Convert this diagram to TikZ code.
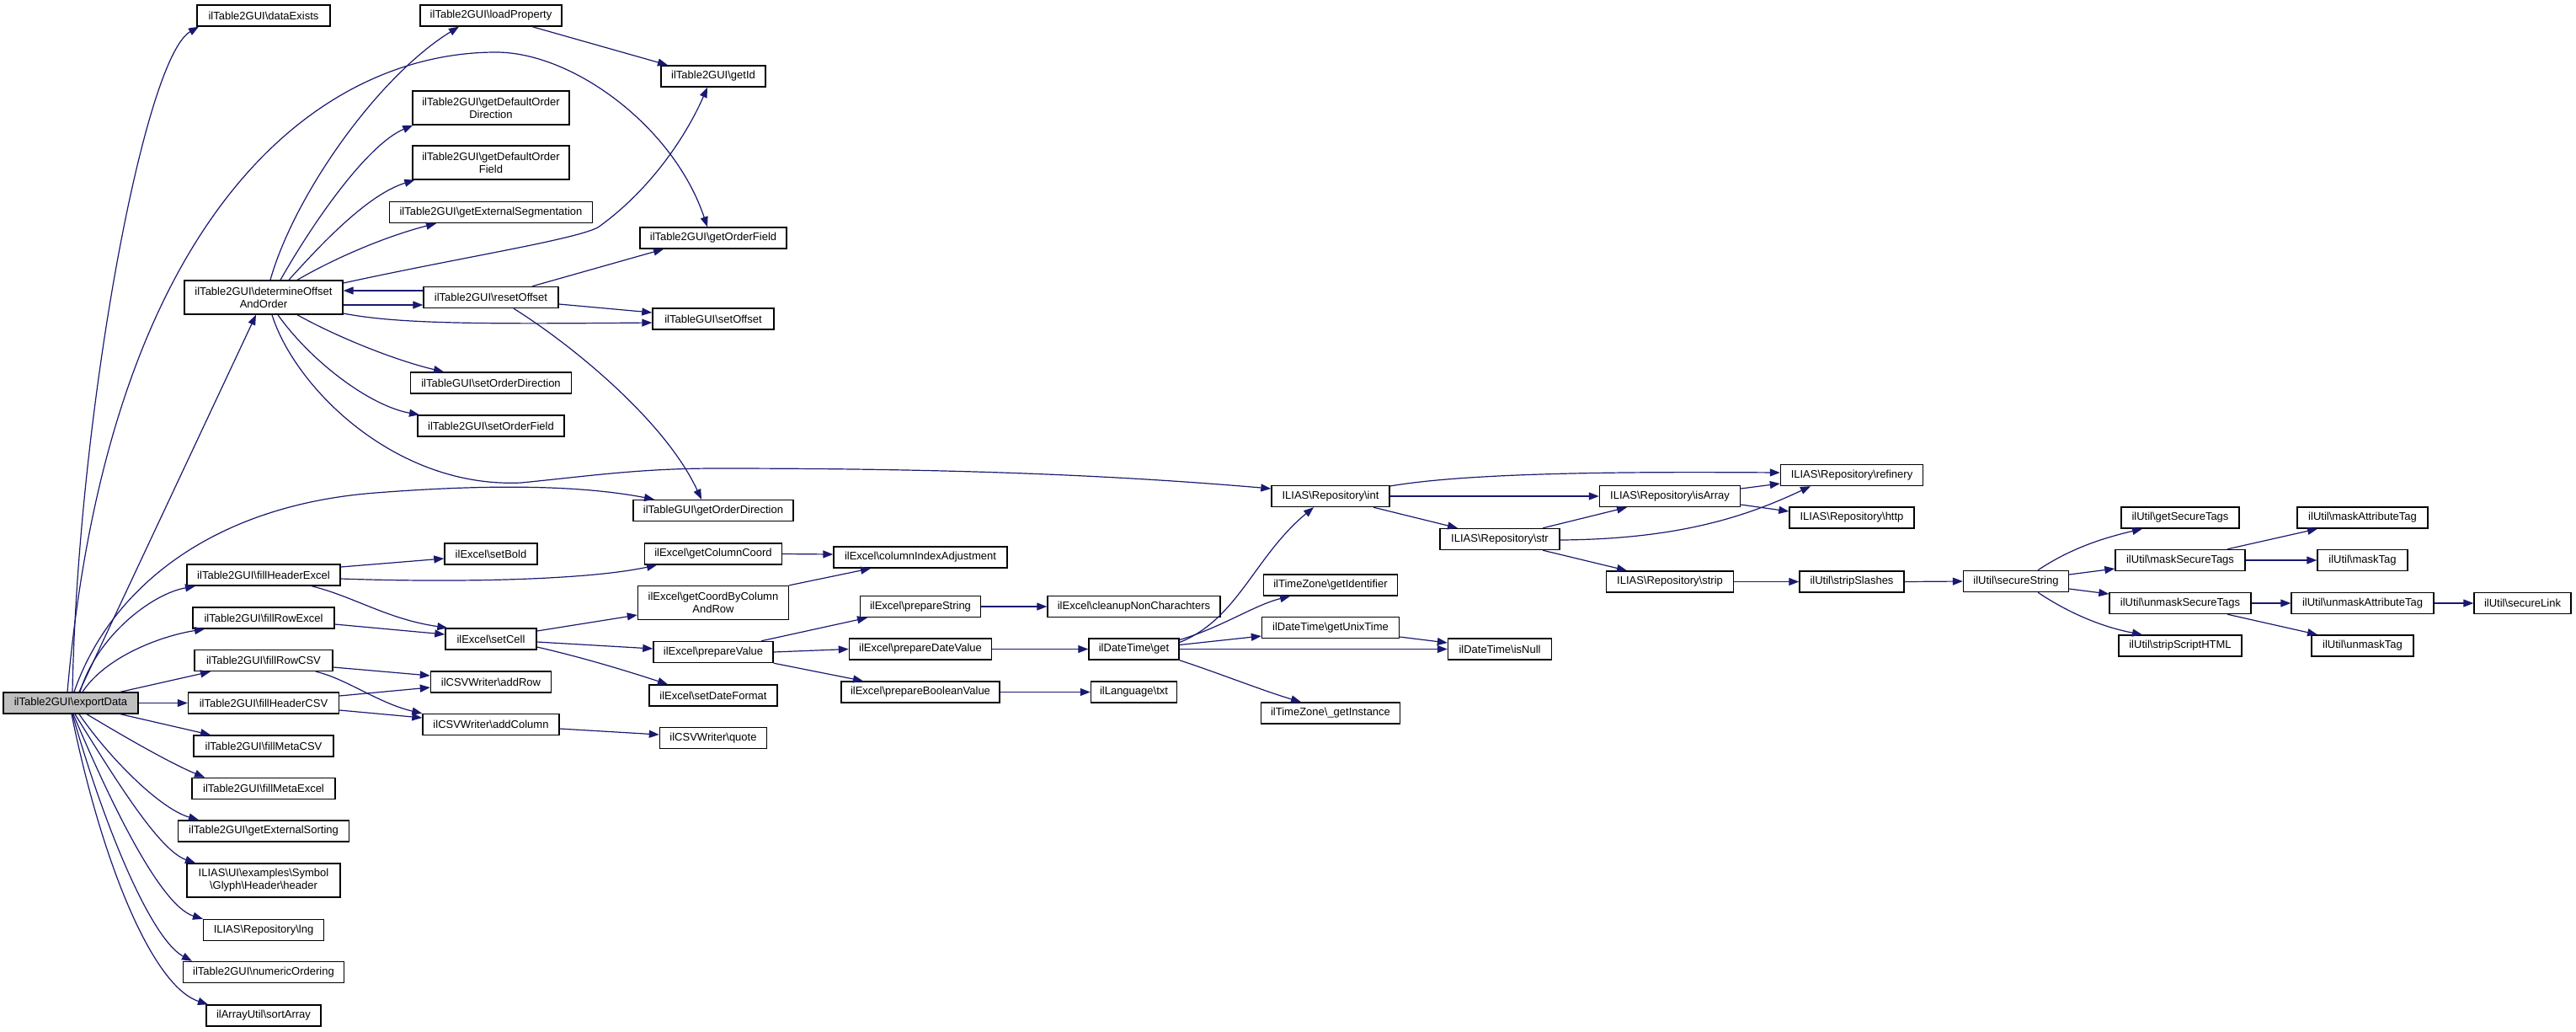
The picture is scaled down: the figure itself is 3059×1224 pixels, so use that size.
\documentclass[tikz,border=0pt]{standalone}
\usepackage{fontspec}
\setmainfont{Liberation Sans}
\usetikzlibrary{arrows.meta}
\definecolor{edgec}{HTML}{191970}
\definecolor{rootfill}{HTML}{BFBFBF}
\newcommand\bsl{\textbackslash}
\begin{document}
\begin{tikzpicture}[x=1pt,y=-1pt,
  fn/.style={draw=black, line width=1.4pt, fill=white, rectangle, inner sep=0pt, minimum height=25pt, font=\fontsize{13}{15}\selectfont, align=center},
  fntwo/.style={fn, minimum height=40pt},
  root/.style={fn, fill=rootfill},
  edge/.style={draw=edgec, line width=1.2pt, -{Triangle[length=12pt,width=9pt]}}]
\useasboundingbox (0,0) rectangle (3059,1224);
% column 0/1
\node[root, minimum width=160pt] (E) at (84,834.5) {ilTable2GUI\bsl exportData};
\node[fn, minimum width=158pt] (DE) at (313,18.5) {ilTable2GUI\bsl dataExists};
\node[fntwo, minimum width=188pt] (D) at (313,353) {ilTable2GUI\bsl determineOffset\\AndOrder};
\node[fn, minimum width=182pt] (FHE) at (313,682.5) {ilTable2GUI\bsl fillHeaderExcel};
\node[fn, minimum width=168pt] (FRE) at (313,733.5) {ilTable2GUI\bsl fillRowExcel};
\node[fn, minimum width=164pt] (FRC) at (313,784) {ilTable2GUI\bsl fillRowCSV};
\node[fn, minimum width=179pt] (FHC) at (313,834.5) {ilTable2GUI\bsl fillHeaderCSV};
\node[fn, minimum width=166pt] (FMC) at (313,885.5) {ilTable2GUI\bsl fillMetaCSV};
\node[fn, minimum width=170pt] (FME) at (313,936) {ilTable2GUI\bsl fillMetaExcel};
\node[fn, minimum width=203pt] (GES2) at (313,986.5) {ilTable2GUI\bsl getExternalSorting};
\node[fntwo, minimum width=182pt] (HD) at (313,1045) {ILIAS\bsl UI\bsl examples\bsl Symbol\\\bsl Glyph\bsl Header\bsl header};
\node[fn, minimum width=143pt] (LNG) at (313,1104) {ILIAS\bsl Repository\bsl lng};
\node[fn, minimum width=191pt] (NO) at (313,1154) {ilTable2GUI\bsl numericOrdering};
\node[fn, minimum width=136pt] (SA) at (313,1205.5) {ilArrayUtil\bsl sortArray};
% column 2
\node[fn, minimum width=168pt] (LP) at (583,18.5) {ilTable2GUI\bsl loadProperty};
\node[fntwo, minimum width=186pt] (GDOD) at (583,128) {ilTable2GUI\bsl getDefaultOrder\\Direction};
\node[fntwo, minimum width=186pt] (GDOF) at (583,193) {ilTable2GUI\bsl getDefaultOrder\\Field};
\node[fn, minimum width=241pt] (GES) at (583,252) {ilTable2GUI\bsl getExternalSegmentation};
\node[fn, minimum width=160pt] (R) at (583,353) {ilTable2GUI\bsl resetOffset};
\node[fn, minimum width=191pt] (SOD) at (583,454.5) {ilTableGUI\bsl setOrderDirection};
\node[fn, minimum width=174pt] (SOF) at (583,505.5) {ilTable2GUI\bsl setOrderField};
\node[fn, minimum width=110pt] (SB) at (583,657.5) {ilExcel\bsl setBold};
\node[fn, minimum width=108pt] (SC) at (583,758.5) {ilExcel\bsl setCell};
\node[fn, minimum width=143pt] (AR) at (583,809.5) {ilCSVWriter\bsl addRow};
\node[fn, minimum width=162pt] (AC) at (583,860) {ilCSVWriter\bsl addColumn};
% column 3
\node[fn, minimum width=124pt] (GID) at (847,90.5) {ilTable2GUI\bsl getId};
\node[fn, minimum width=174pt] (GOF) at (847,282.5) {ilTable2GUI\bsl getOrderField};
\node[fn, minimum width=144pt] (SO) at (847,378.5) {ilTableGUI\bsl setOffset};
\node[fn, minimum width=190pt] (GOD) at (847,606) {ilTableGUI\bsl getOrderDirection};
\node[fn, minimum width=163pt] (GCC) at (847,657.5) {ilExcel\bsl getColumnCoord};
\node[fntwo, minimum width=179pt] (GCBC) at (847,715.5) {ilExcel\bsl getCoordByColumn\\AndRow};
\node[fn, minimum width=142pt] (PV) at (847,774) {ilExcel\bsl prepareValue};
\node[fn, minimum width=152pt] (SDF) at (847,825.5) {ilExcel\bsl setDateFormat};
\node[fn, minimum width=127pt] (QU) at (847,876) {ilCSVWriter\bsl quote};
% column 4
\node[fn, minimum width=206pt] (CIA) at (1093,661.5) {ilExcel\bsl columnIndexAdjustment};
\node[fn, minimum width=143pt] (PS) at (1093,720) {ilExcel\bsl prepareString};
\node[fn, minimum width=169pt] (PDV) at (1093,770.5) {ilExcel\bsl prepareDateValue};
\node[fn, minimum width=188pt] (PBV) at (1093,821.5) {ilExcel\bsl prepareBooleanValue};
% column 5
\node[fn, minimum width=205pt] (CNC) at (1346.5,720) {ilExcel\bsl cleanupNonCharachters};
\node[fn, minimum width=107pt] (DG) at (1346.5,770.5) {ilDateTime\bsl get};
\node[fn, minimum width=102pt] (TXT) at (1346.5,821.5) {ilLanguage\bsl txt};
% column 6
\node[fn, minimum width=140pt] (RI) at (1580,589) {ILIAS\bsl Repository\bsl int};
\node[fn, minimum width=159pt] (GI) at (1580,694.5) {ilTimeZone\bsl getIdentifier};
\node[fn, minimum width=163pt] (GUT) at (1580,745) {ilDateTime\bsl getUnixTime};
\node[fn, minimum width=165pt] (GTI) at (1580,846.5) {ilTimeZone\bsl\_getInstance};
% column 7
\node[fn, minimum width=142pt] (RS) at (1781,640) {ILIAS\bsl Repository\bsl str};
\node[fn, minimum width=123pt] (IN) at (1781,770.5) {ilDateTime\bsl isNull};
\node[fn, minimum width=167pt] (IA) at (1983,589) {ILIAS\bsl Repository\bsl isArray};
\node[fn, minimum width=151pt] (ST) at (1983,690.5) {ILIAS\bsl Repository\bsl strip};
% column 8
\node[fn, minimum width=169pt] (RF) at (2199,564) {ILIAS\bsl Repository\bsl refinery};
\node[fn, minimum width=148pt] (HT) at (2199,614.5) {ILIAS\bsl Repository\bsl http};
\node[fn, minimum width=124pt] (SSL) at (2199,690.5) {ilUtil\bsl stripSlashes};
% column 9+
\node[fn, minimum width=125pt] (SS) at (2394,690) {ilUtil\bsl secureString};
\node[fn, minimum width=140pt] (GST) at (2589,614.5) {ilUtil\bsl getSecureTags};
\node[fn, minimum width=154pt] (MST) at (2589,665) {ilUtil\bsl maskSecureTags};
\node[fn, minimum width=168pt] (UST) at (2589,716) {ilUtil\bsl unmaskSecureTags};
\node[fn, minimum width=146pt] (SSH) at (2589,766.5) {ilUtil\bsl stripScriptHTML};
\node[fn, minimum width=155pt] (MAT) at (2805.5,614.5) {ilUtil\bsl maskAttributeTag};
\node[fn, minimum width=107pt] (MT) at (2805.5,665) {ilUtil\bsl maskTag};
\node[fn, minimum width=169pt] (UAT) at (2805.5,716) {ilUtil\bsl unmaskAttributeTag};
\node[fn, minimum width=121pt] (UT) at (2805.5,766.5) {ilUtil\bsl unmaskTag};
\node[fn, minimum width=115pt] (SL) at (2995.5,716) {ilUtil\bsl secureLink};

% edges from exportData
\draw[edge] ([xshift=2]E.north) .. controls (92,500) and (170,70) .. ([xshift=-77]DE.south);
\draw[edge] ([xshift=10]E.north) -- ([xshift=-9]D.south);
\draw[edge] ([xshift=-4]E.north) .. controls (130,250) and (380,62) .. (589,62) .. controls (680,62) and (800,150) .. ([xshift=-7]GOF.north);
\draw[edge] ([xshift=4]E.north) .. controls (130,700) and (250,600) .. (446,585) .. controls (600,573) and (700,578) .. ([xshift=-70]GOD.north);
\draw[edge] ([xshift=11]E.north) .. controls (115,755) and (180,705) .. ([xshift=-81]FHE.south);
\draw[edge] ([xshift=14]E.north) .. controls (125,780) and (190,755) .. ([xshift=-70]FRE.south);
\draw[edge] ([xshift=59]E.north) -- ([xshift=-63]FRC.south);
\draw[edge] (E.east) -- (FHC.west);
\draw[edge] ([xshift=59]E.south) -- ([xshift=-63]FMC.north);
\draw[edge] ([xshift=19]E.south) .. controls (140,870) and (200,905) .. ([xshift=-70]FME.north);
\draw[edge] ([xshift=10]E.south) .. controls (130,900) and (190,960) .. ([xshift=-77]GES2.north);
\draw[edge] ([xshift=5]E.south) .. controls (140,930) and (190,1010) .. ([xshift=-81]HD.north);
\draw[edge] ([xshift=3]E.south) .. controls (130,950) and (190,1075) .. ([xshift=-72]LNG.north);
\draw[edge] ([xshift=2]E.south) .. controls (125,985) and (180,1115) .. ([xshift=-85]NO.north);
\draw[edge] ([xshift=1]E.south) .. controls (120,1020) and (180,1170) .. ([xshift=-66]SA.north);

% edges from determineOffsetAndOrder
\draw[edge] ([xshift=8]D.north) .. controls (350,230) and (450,90) .. ([xshift=-38]LP.south);
\draw[edge] ([xshift=20]D.north) .. controls (380,250) and (440,170) .. ([xshift=1]GDOD.south west);
\draw[edge] ([xshift=30]D.north) .. controls (390,280) and (440,230) .. ([xshift=3]GDOF.south west);
\draw[edge] ([xshift=40]D.north) .. controls (400,305) and (460,280) .. ([xshift=-65]GES.south);
\draw[edge] ([yshift=17]D.east) .. controls (550,305) and (680,285) .. (710,270) .. controls (780,220) and (820,150) .. ([xshift=-7]GID.south);
\draw[edge] ([yshift=-9]D.east) -- ([yshift=-9]R.west);
\draw[edge] ([yshift=8]R.west) -- ([yshift=8]D.east);
\draw[edge] ([yshift=-19]D.east) .. controls (470,384) and (560,385) .. ([yshift=-4.5]SO.west);
\draw[edge] ([xshift=40]D.south) .. controls (400,400) and (470,428) .. ([xshift=-56]SOD.north);
\draw[edge] ([xshift=17]D.south) .. controls (370,430) and (440,482) .. ([xshift=-85]SOF.north);
\draw[edge] ([xshift=10]D.south) .. controls (350,460) and (470,580) .. (619,573) .. controls (700,565) and (760,556) .. (850,556) .. controls (1100,556) and (1300,562) .. ([yshift=9]RI.west);

% resetOffset, loadProperty
\draw[edge] ([xshift=49]R.north) -- ([xshift=-59]GOF.south);
\draw[edge] ([yshift=-8]R.east) -- ([yshift=7.5]SO.west);
\draw[edge] ([xshift=27]R.south) .. controls (680,410) and (790,500) .. ([xshift=-14]GOD.north);
\draw[edge] ([xshift=49]LP.south) -- ([xshift=-54]GID.north);

% excel / csv
\draw[edge] ([yshift=9.5]FHE.east) -- ([yshift=-5.5]SB.west);
\draw[edge] ([yshift=-4.5]FHE.east) .. controls (550,692) and (700,688) .. ([xshift=-67]GCC.south);
\draw[edge] ([xshift=57]FHE.south) .. controls (420,708) and (460,735) .. ([xshift=3]SC.north west);
\draw[edge] ([yshift=-7.5]FRE.east) -- ([yshift=5.5]SC.west);
\draw[edge] ([yshift=-8]FRC.east) -- ([yshift=7.5]AR.west);
\draw[edge] ([xshift=62]FRC.south) .. controls (410,805) and (450,835) .. (AC.north west);
\draw[edge] ([yshift=8.5]FHC.east) -- ([yshift=-6.5]AR.west);
\draw[edge] ([yshift=-8.5]FHC.east) -- ([yshift=8]AC.west);
\draw[edge] ([yshift=-5]AC.east) -- ([yshift=4]QU.west);
\draw[edge] ([yshift=9.5]SC.east) -- ([yshift=-14.5]GCBC.west);
\draw[edge] ([yshift=-3.5]SC.east) -- ([yshift=4]PV.west);
\draw[edge] ([yshift=-9.5]SC.east) .. controls (690,780) and (740,795) .. ([xshift=-54]SDF.north);
\draw[edge] (GCC.east) -- ([yshift=3.5]CIA.west);
\draw[edge] (GCBC.north east) -- ([xshift=-59]CIA.south);
\draw[edge] ([xshift=57]PV.north) -- ([xshift=-63]PS.south);
\draw[edge] (PV.east) -- (PDV.west);
\draw[edge] (PV.south east) -- ([xshift=-68]PBV.north);
\draw[edge] (PS.east) -- (CNC.west);
\draw[edge] (PDV.east) -- (DG.west);
\draw[edge] (PBV.east) -- (TXT.west);

% date time
\draw[edge] ([yshift=8]DG.east) .. controls (1470,735) and (1490,660) .. ([xshift=-20]RI.south);
\draw[edge] ([yshift=11]DG.east) .. controls (1450,745) and (1490,718) .. ([xshift=-48]GI.south);
\draw[edge] ([yshift=5]DG.east) -- ([yshift=-10]GUT.west);
\draw[edge] (DG.east) -- (IN.west);
\draw[edge] (DG.south east) .. controls (1450,800) and (1500,820) .. ([xshift=-35]GTI.north);
\draw[edge] ([yshift=-11]GUT.east) -- ([yshift=7.5]IN.west);

% repository
\draw[edge] ([yshift=12]RI.east) .. controls (1750,560) and (1950,560) .. ([yshift=3]RF.west);
\draw[edge] (RI.east) -- (IA.west);
\draw[edge] ([xshift=51]RI.south) -- ([xshift=-50]RS.north);
\draw[edge] ([xshift=51]RS.north) -- ([xshift=-51]IA.south);
\draw[edge] ([yshift=-1]RS.east) .. controls (2000,640) and (2080,610) .. ([xshift=-49]RF.south);
\draw[edge] ([xshift=51]RS.south) -- ([xshift=-51]ST.north);
\draw[edge] ([yshift=9]IA.east) -- ([yshift=-10]RF.west);
\draw[edge] ([yshift=-10]IA.east) -- ([yshift=7.5]HT.west);
\draw[edge] (ST.east) -- (SSL.west);
\draw[edge] (SSL.east) -- (SS.west);

% util
\draw[edge] ([xshift=26]SS.north) .. controls (2460,650) and (2500,638) .. ([xshift=-45]GST.south);
\draw[edge] ([yshift=8]SS.east) -- ([yshift=-10]MST.west);
\draw[edge] ([yshift=-9]SS.east) -- ([yshift=11]UST.west);
\draw[edge] ([xshift=26]SS.south) .. controls (2460,730) and (2500,745) .. ([xshift=-45]SSH.north);
\draw[edge] ([xshift=56]MST.north) -- ([xshift=-53.5]MAT.south);
\draw[edge] (MST.east) -- (MT.west);
\draw[edge] (UST.east) -- (UAT.west);
\draw[edge] ([xshift=56]UST.south) -- ([xshift=-53.5]UT.north);
\draw[edge] (UAT.east) -- (SL.west);
\end{tikzpicture}
\end{document}
